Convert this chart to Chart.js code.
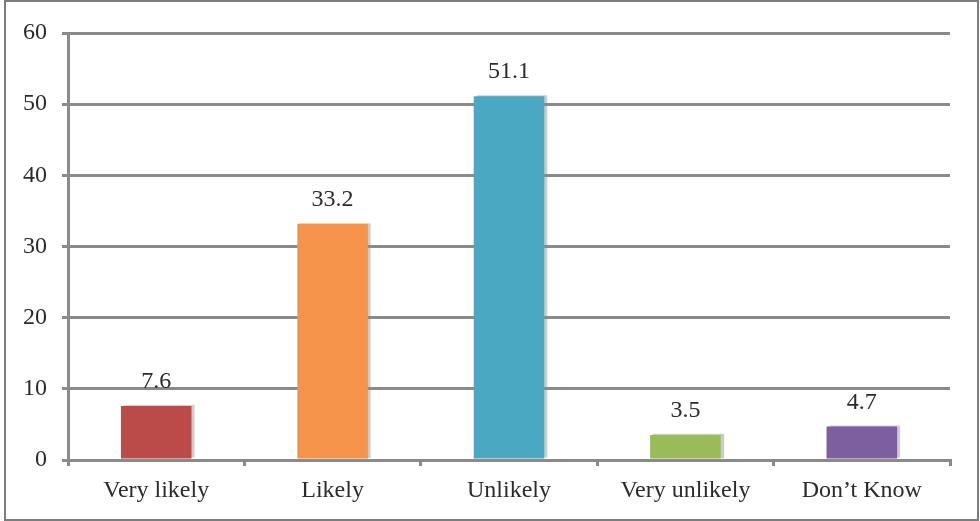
<!DOCTYPE html>
<html>
<head>
<meta charset="utf-8">
<script src="https://cdn.jsdelivr.net/npm/chart.js@4"></script>
<style>
  html, body { margin: 0; padding: 0; background: #fff; }
  #wrap { position: relative; width: 980px; height: 521px; }
  #frame { position: absolute; left: 4px; top: 0; width: 971px; height: 517px;
           border: 2px solid #7d7d7d; pointer-events: none; }
</style>
</head>
<body>
<div id="wrap">
  <canvas id="c" width="980" height="521"></canvas>
  <div id="frame"></div>
</div>
<script>
const categories = ["Very likely", "Likely", "Unlikely", "Very unlikely", "Don\u2019t Know"];
const percentages = [7.6, 33.2, 51.1, 3.5, 4.7];
const barColors = ["#bb4b48", "#f5934a", "#4aa8c3", "#9bbb59", "#7d5e9e"];
const yTicks = [0, 10, 20, 30, 40, 50, 60];

const serif = "'Liberation Serif', 'Times New Roman', serif";
const textColor = "#2b2b2b";

// Soft grey edge behind the bars
const barShadow = {
  id: 'barShadow',
  beforeDatasetsDraw(chart) {
    const ctx = chart.ctx;
    ctx.save();
    ctx.shadowColor = "rgba(140,140,140,0.45)";
    ctx.shadowOffsetX = 3;
    ctx.shadowOffsetY = -1;
    ctx.shadowBlur = 1;
  },
  afterDatasetsDraw(chart) {
    chart.ctx.restore();
  }
};

// Writes each bar's value just above it
const valueLabels = {
  id: 'valueLabels',
  afterDatasetsDraw(chart) {
    const ctx = chart.ctx;
    const meta = chart.getDatasetMeta(0);
    ctx.save();
    ctx.font = "24px " + serif;
    ctx.fillStyle = textColor;
    ctx.textAlign = "center";
    ctx.textBaseline = "alphabetic";
    meta.data.forEach((bar, i) => {
      ctx.fillText(String(percentages[i]), bar.x, bar.y - 18);
    });
    ctx.restore();
  }
};

new Chart(document.getElementById('c'), {
  type: 'bar',
  data: {
    labels: categories,
    datasets: [{
      data: percentages,
      backgroundColor: barColors,
      borderWidth: 0,
      categoryPercentage: 0.8,
      barPercentage: 0.5
    }]
  },
  options: {
    responsive: false,
    animation: false,
    events: [],
    layout: { padding: { top: 33, right: 30, left: 0, bottom: 0 } },
    plugins: { legend: { display: false }, tooltip: { enabled: false } },
    scales: {
      y: {
        min: 0, max: 60,
        afterBuildTicks(scale) { scale.ticks = yTicks.map(v => ({ value: v })); },
        afterFit(scale) { scale.width = 68; },
        ticks: { font: { family: serif, size: 24 }, color: textColor, padding: 15 },
        grid: { color: "#8a8a8a", lineWidth: 3, tickLength: 6 },
        border: { display: true, color: "#8a8a8a", width: 3 }
      },
      x: {
        afterFit(scale) { scale.height = 61; },
        ticks: { font: { family: serif, size: 24 }, color: textColor, padding: 10 },
        grid: { offset: true, drawOnChartArea: false, drawTicks: true, tickLength: 6,
                color: "#8a8a8a", lineWidth: 3 },
        border: { display: true, color: "#8a8a8a", width: 3 }
      }
    }
  },
  plugins: [barShadow, valueLabels]
});
</script>
</body>
</html>
